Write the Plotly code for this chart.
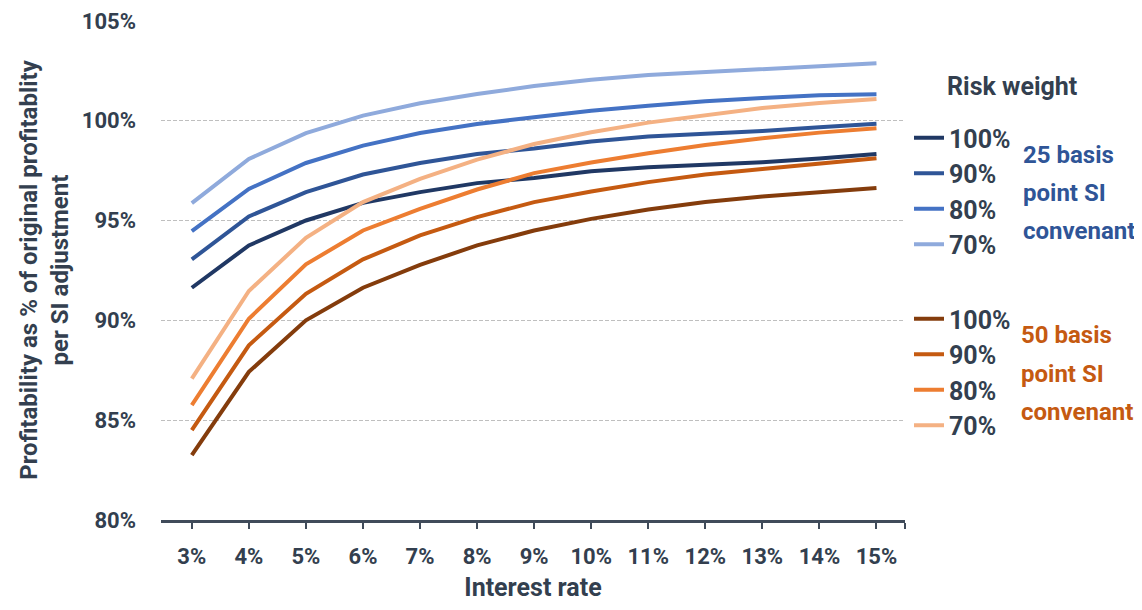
import plotly.graph_objects as go

rates = [3, 4, 5, 6, 7, 8, 9, 10, 11, 12, 13, 14, 15]
rate_labels = ["3%", "4%", "5%", "6%", "7%", "8%", "9%", "10%", "11%", "12%", "13%", "14%", "15%"]

# 25 basis point SI convenant
bp25_rw100 = [91.63, 93.75, 95.0, 95.88, 96.42, 96.87, 97.13, 97.47, 97.67, 97.77, 97.92, 98.10, 98.33]
bp25_rw90 = [93.05, 95.2, 96.42, 97.3, 97.88, 98.33, 98.6, 98.95, 99.2, 99.33, 99.48, 99.67, 99.85]
bp25_rw80 = [94.47, 96.58, 97.88, 98.75, 99.38, 99.83, 100.17, 100.5, 100.75, 100.97, 101.13, 101.27, 101.32]
bp25_rw70 = [95.87, 98.08, 99.37, 100.25, 100.87, 101.33, 101.73, 102.05, 102.28, 102.43, 102.58, 102.73, 102.88]

# 50 basis point SI convenant
bp50_rw100 = [83.25, 87.42, 90.0, 91.63, 92.78, 93.75, 94.5, 95.08, 95.55, 95.92, 96.2, 96.42, 96.63]
bp50_rw90 = [84.5, 88.75, 91.33, 93.05, 94.25, 95.17, 95.92, 96.45, 96.92, 97.3, 97.58, 97.87, 98.12]
bp50_rw80 = [85.75, 90.08, 92.8, 94.5, 95.58, 96.55, 97.37, 97.9, 98.37, 98.78, 99.12, 99.4, 99.62]
bp50_rw70 = [87.08, 91.47, 94.13, 95.92, 97.08, 98.05, 98.83, 99.42, 99.9, 100.25, 100.63, 100.88, 101.08]

y_ticks = [80, 85, 90, 95, 100, 105]
y_tick_labels = ["80%", "85%", "90%", "95%", "100%", "105%"]

series = [
    ("100%", bp25_rw100, "#203864", "g25"),
    ("90%", bp25_rw90, "#2F5597", "g25"),
    ("80%", bp25_rw80, "#4472C4", "g25"),
    ("70%", bp25_rw70, "#8FAADC", "g25"),
    ("100%", bp50_rw100, "#843C0C", "g50"),
    ("90%", bp50_rw90, "#C55A11", "g50"),
    ("80%", bp50_rw80, "#ED7D31", "g50"),
    ("70%", bp50_rw70, "#F4B183", "g50"),
]

group_lines_25 = ["25 basis", "point SI", "convenant"]
group_lines_50 = ["50 basis", "point SI", "convenant"]

FONT = "Roboto, Lato, sans-serif"
TXT = "#333F4F"
OFF = 8  # page body margin
W, H = 1142 - 2 * OFF, 610 - 2 * OFF


def px(img_x):
    return (img_x - 161) / 744


def py(img_y):
    return 1 - (img_y - 20) / 500


fig = go.Figure()
for name, vals, color, grp in series:
    fig.add_trace(go.Scatter(
        x=rates, y=vals, mode="lines", name=name, legendgroup=grp,
        line=dict(color=color, width=4),
    ))

fig.update_layout(
    width=W, height=H,
    margin=dict(l=161 - OFF, r=W - (905 - OFF), t=20 - OFF, b=H - (520 - OFF), autoexpand=False),
    paper_bgcolor="white", plot_bgcolor="white",
    font=dict(family=FONT, size=22, color=TXT, weight="bold"),
    showlegend=True,
    legend=dict(
        xref="container", yref="container",
        x=(909 - OFF) / W, y=1 - (115 - OFF) / H, xanchor="left", yanchor="top",
        maxheight=500,
        tracegroupgap=39, font=dict(size=25, color=TXT, family=FONT, weight="bold"),
        bgcolor="rgba(0,0,0,0)",
    ),
    xaxis=dict(
        range=[2.46, 15.5], automargin=False,
        tickmode="array", tickvals=rates + [15.5], ticktext=rate_labels + [""],
        showgrid=False, zeroline=False,
        showline=True, linecolor="#404B5A", linewidth=2.5,
        ticks="outside", ticklen=6, tickwidth=2, tickcolor="#404B5A",
        ticklabelstandoff=9, ticklabeloverflow="allow",
        tickfont=dict(size=22, color=TXT, family=FONT, weight="bold"),
        title=dict(text="Interest rate", font=dict(size=25, color=TXT, family=FONT, weight="bold"), standoff=27),
    ),
    yaxis=dict(
        range=[79.999, 105.04], automargin=False,
        tickmode="array", tickvals=y_ticks, ticktext=y_tick_labels,
        showgrid=True, gridcolor="#BFBFBF", gridwidth=1, griddash="4px,2px",
        zeroline=False, showline=False,
        ticks="", ticklabelstandoff=24, ticklabeloverflow="allow",
        tickfont=dict(size=22, color=TXT, family=FONT, weight="bold"),
        title=dict(text="Profitability as % of original profitablity<br>per SI adjustment",
                   font=dict(size=24, color=TXT, family=FONT, weight="bold"), standoff=6),
    ),
)

fig.add_annotation(
    xref="paper", yref="paper", x=px(1012), y=py(86),
    text="Risk weight", showarrow=False, xanchor="center", yanchor="middle",
    font=dict(size=25, color=TXT, family=FONT, weight="bold"),
)
for i, line in enumerate(group_lines_25):
    fig.add_annotation(
        xref="paper", yref="paper", x=px(1021), y=py(155 + 38 * i),
        text=line, showarrow=False, xanchor="left", yanchor="middle",
        font=dict(size=24, color="#2F5597", family=FONT, weight="bold"),
    )
for i, line in enumerate(group_lines_50):
    fig.add_annotation(
        xref="paper", yref="paper", x=px(1019), y=py(335 + 38.5 * i),
        text=line, showarrow=False, xanchor="left", yanchor="middle",
        font=dict(size=24, color="#C55A11", family=FONT, weight="bold"),
    )

fig.write_html("out.html")
